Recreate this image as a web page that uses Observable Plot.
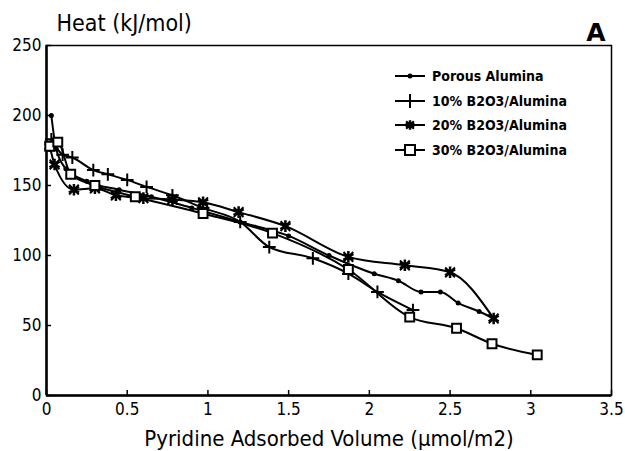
<!DOCTYPE html>
<html>
<head>
<meta charset="utf-8">
<script src="https://cdn.jsdelivr.net/npm/d3@7"></script>
<script src="https://cdn.jsdelivr.net/npm/@observablehq/plot@0.6"></script>
<style>
  html, body { margin: 0; padding: 0; background: #fff; }
  #wrap { position: relative; width: 625px; height: 451px; }
  #legend { position: absolute; left: 0; top: 0; pointer-events: none; }
</style>
</head>
<body>
<div id="wrap"></div>
<script>
// ---- data ----
const seriesNames = ["Porous Alumina", "10% B2O3/Alumina", "20% B2O3/Alumina", "30% B2O3/Alumina"];

const porousX = [0.03, 0.06, 0.12, 0.25, 0.45, 0.65, 0.9, 1.2, 1.5, 1.75, 2.03, 2.18, 2.32, 2.44, 2.55, 2.68, 2.77];
const porousY = [200, 176, 162, 153, 147, 142, 134, 124, 114, 100, 87, 82, 74, 74, 66, 60, 55];

const b10X = [0.03, 0.1, 0.16, 0.29, 0.38, 0.5, 0.62, 0.78, 0.97, 1.2, 1.38, 1.65, 1.87, 2.05, 2.27];
const b10Y = [183, 172, 170, 161, 158, 154, 149, 143, 134, 124, 106, 98, 87, 74, 61];

const b20X = [0.02, 0.05, 0.17, 0.3, 0.43, 0.6, 0.78, 0.97, 1.19, 1.48, 1.87, 2.22, 2.5, 2.77];
const b20Y = [178, 165, 147, 148, 143, 141, 140, 138, 131, 121, 99, 93, 88, 55];

const b30X = [0.02, 0.07, 0.15, 0.3, 0.55, 0.97, 1.4, 1.87, 2.25, 2.54, 2.76, 3.04];
const b30Y = [178, 181, 158, 150, 142, 130, 116, 90, 56, 48, 37, 29];

const xTicks = [0, 0.5, 1, 1.5, 2, 2.5, 3, 3.5];
const yTicks = [0, 50, 100, 150, 200, 250];
const xTitle = "Pyridine Adsorbed Volume (\u03bcmol/m2)";
const yTitle = "Heat (kJ/mol)";
const panelLabel = "A";

// ---- build table ----
const table = [];
[[porousX, porousY], [b10X, b10Y], [b20X, b20Y], [b30X, b30Y]].forEach(([xs, ys], i) => {
  xs.forEach((x, j) => table.push({series: seriesNames[i], x, y: ys[j]}));
});
const of = name => table.filter(d => d.series === name);

const FONT = "'DejaVu Sans Condensed', 'DejaVu Sans', sans-serif";

const chart = Plot.plot({
  width: 625,
  height: 451,
  marginLeft: 46,
  marginRight: 14,
  marginTop: 45,
  marginBottom: 56,
  style: {fontFamily: FONT, fontSize: "17px", color: "black", background: "white"},
  x: {domain: [0, 3.5], axis: null},
  y: {domain: [0, 250], axis: null},
  marks: [
    Plot.frame({stroke: "black", strokeWidth: 1.5}),
    Plot.ruleX([0], {stroke: "black", strokeWidth: 2.5}),
    Plot.ruleY([0], {stroke: "black", strokeWidth: 2.5}),
    Plot.axisX({ticks: xTicks, tickSize: -5, tickFormat: () => "", strokeWidth: 1.5, label: null}),
    Plot.axisX({ticks: xTicks, tickSize: 0, tickPadding: 7, tickFormat: d => String(d), label: null, fontSize: 17}),
    Plot.axisY({ticks: yTicks, tickSize: -5, tickFormat: () => "", strokeWidth: 1.5, label: null}),
    Plot.axisY({ticks: yTicks, tickSize: 0, tickPadding: 5, tickFormat: d => String(d), label: null, fontSize: 17}),
    Plot.line(table, {x: "x", y: "y", z: "series", curve: "monotone-x", stroke: "black", strokeWidth: 2}),
    Plot.dot(of(seriesNames[0]), {x: "x", y: "y", r: 2.5, fill: "black"}),
    Plot.dot(of(seriesNames[1]), {x: "x", y: "y", symbol: "plus", r: 4.2, stroke: "black", strokeWidth: 2}),
    Plot.dot(of(seriesNames[2]), {x: "x", y: "y", symbol: "asterisk", r: 5.5, stroke: "black", strokeWidth: 2.5}),
    Plot.dot(of(seriesNames[2]), {x: "x", y: "y", symbol: "times", r: 4.5, stroke: "black", strokeWidth: 2}),
    Plot.dot(of(seriesNames[2]), {x: "x", y: "y", r: 3, fill: "black"}),
    Plot.dot(of(seriesNames[3]), {x: "x", y: "y", symbol: "square", r: 5, fill: "white", stroke: "black", strokeWidth: 2}),
    Plot.text([yTitle], {frameAnchor: "top-left", dx: 10, dy: -15, fontSize: 23, textAnchor: "start", lineAnchor: "bottom", fill: "black"}),
    Plot.text([xTitle], {frameAnchor: "bottom", dy: 50, fontSize: 22, lineAnchor: "bottom", fill: "black"}),
    Plot.text([panelLabel], {frameAnchor: "top-right", dx: -6, dy: -5, fontSize: 25, fontWeight: "bold", lineAnchor: "bottom", fontFamily: "'DejaVu Sans', sans-serif", fill: "black"})
  ]
});

const wrap = document.getElementById("wrap");
wrap.appendChild(chart);

// ---- legend overlay ----
const leg = d3.select(wrap).append("svg")
  .attr("id", "legend").attr("width", 625).attr("height", 451);
const rows = [76, 101, 125, 150];
seriesNames.forEach((name, i) => {
  const g = leg.append("g").attr("transform", `translate(395,${rows[i]})`);
  g.append("line").attr("x1", 0).attr("x2", 30).attr("stroke", "black").attr("stroke-width", 2);
  const cx = 15;
  if (i === 0) g.append("circle").attr("cx", cx).attr("r", 2.5).attr("fill", "black");
  if (i === 1) g.append("path").attr("d", `M${cx},-7V7M${cx-6},0H${cx+6}`).attr("stroke", "black").attr("stroke-width", 2);
  if (i === 2) {
    g.append("path").attr("d", d3.symbol(d3.symbolAsterisk, 60)()).attr("transform", `translate(${cx},0)`).attr("stroke", "black").attr("stroke-width", 2.5).attr("fill", "none");
    g.append("path").attr("d", d3.symbol(d3.symbolTimes, 40)()).attr("transform", `translate(${cx},0)`).attr("stroke", "black").attr("stroke-width", 2).attr("fill", "none");
    g.append("circle").attr("cx", cx).attr("r", 3).attr("fill", "black");
  }
  if (i === 3) g.append("rect").attr("x", cx - 5).attr("y", -5).attr("width", 10).attr("height", 10).attr("fill", "white").attr("stroke", "black").attr("stroke-width", 2);
  g.append("text").attr("x", 37).attr("y", 0).attr("dy", "0.35em")
    .attr("font-family", FONT).attr("font-size", 14).attr("font-weight", "bold").text(name);
});
</script>
</body>
</html>
